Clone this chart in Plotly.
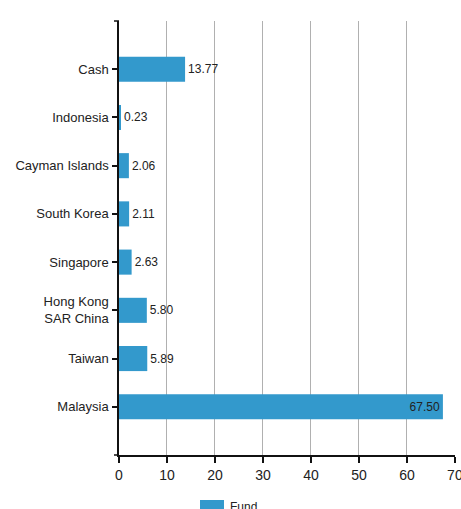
import plotly.graph_objects as go

# Allocation by country (percent of fund)
categories = ["Cash", "Indonesia", "Cayman Islands", "South Korea", "Singapore",
              "Hong Kong<br>SAR China", "Taiwan", "Malaysia"]
values = [13.77, 0.23, 2.06, 2.11, 2.63, 5.80, 5.89, 67.50]
series_name = "Fund"
x_ticks = [0, 10, 20, 30, 40, 50, 60, 70]

BAR = "#3399CC"
INK = "#222222"
FONT = "Liberation Sans, Arial, sans-serif"

W, H = 461, 509
ML, MR, MT, MB = 119, 6, 21, 54
plot_w = W - ML - MR
plot_h = H - MT - MB

positions = ["inside" if v > 50 else "outside" for v in values]

fig = go.Figure()
fig.add_trace(go.Bar(
    x=values,
    y=list(range(len(categories))),
    orientation="h",
    name=series_name,
    marker=dict(color=BAR, line=dict(width=0)),
    width=0.52,
    text=[f"{v:.2f}" for v in values],
    textposition=positions,
    insidetextanchor="end",
    textangle=0,
    constraintext="none",
    cliponaxis=False,
    textfont=dict(family=FONT, size=12, color=INK),
    insidetextfont=dict(family=FONT, size=12, color=INK),
    outsidetextfont=dict(family=FONT, size=12, color=INK),
    showlegend=False,
    hoverinfo="skip",
))

fig.update_xaxes(
    range=[0, 70.02],
    tickvals=x_ticks,
    ticktext=[str(t) for t in x_ticks],
    showgrid=True, gridcolor="#b0b0b0", gridwidth=1,
    zeroline=False,
    showline=True, linecolor="#111111", linewidth=1.5,
    ticks="outside", ticklen=6, tickcolor="#111111", tickwidth=1.5,
    tickfont=dict(family=FONT, size=14, color=INK),
    ticklabeloverflow="allow",
    automargin=False,
    fixedrange=True,
)
fig.update_yaxes(
    range=[len(categories), -1],
    tickvals=list(range(len(categories))),
    ticktext=categories,
    showgrid=False, zeroline=False,
    showline=True, linecolor="#111111", linewidth=1.5,
    ticks="outside", ticklen=5, tickcolor="#111111", tickwidth=1.5,
    tickfont=dict(family=FONT, size=13, color=INK),
    ticklabelstandoff=1,
    automargin=False,
    fixedrange=True,
)

# end ticks on the category axis
tick_len = 5 / plot_w
shapes = [
    dict(type="line", xref="paper", yref="paper", x0=-tick_len, x1=0, y0=1, y1=1,
         line=dict(color="#111111", width=1.5)),
    dict(type="line", xref="paper", yref="paper", x0=-tick_len, x1=0, y0=0, y1=0,
         line=dict(color="#111111", width=1.5)),
]

# legend swatch and label below the axis
sw_x0 = (200 - ML) / plot_w
sw_x1 = (224 - ML) / plot_w
sw_y0 = (MT + plot_h - 500) / plot_h
sw_y1 = (MT + plot_h - 514) / plot_h
shapes.append(dict(type="rect", xref="paper", yref="paper",
                   x0=sw_x0, x1=sw_x1, y0=sw_y1, y1=sw_y0,
                   fillcolor=BAR, line=dict(width=0)))

fig.update_layout(
    width=W, height=H,
    margin=dict(l=ML, r=MR, t=MT, b=MB, pad=0),
    paper_bgcolor="white", plot_bgcolor="white",
    font=dict(family=FONT, color=INK),
    shapes=shapes,
    annotations=[dict(
        xref="paper", yref="paper",
        x=(228 - ML) / plot_w, y=(MT + plot_h - 507) / plot_h,
        xanchor="left", yanchor="middle",
        text=series_name, showarrow=False,
        font=dict(family=FONT, size=12, color=INK),
    )],
    showlegend=False,
)

fig.write_html("out.html")
